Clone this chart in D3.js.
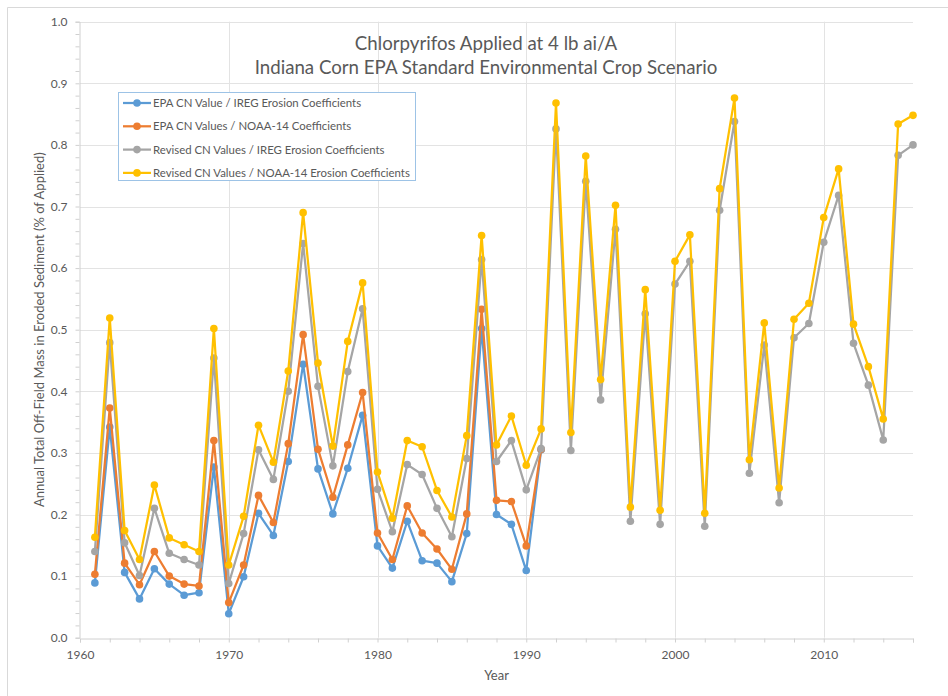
<!DOCTYPE html>
<html>
<head>
<meta charset="utf-8">
<script src="https://cdn.jsdelivr.net/npm/d3@7"></script>
<style>
  html, body { margin: 0; padding: 0; background: #fff; }
  svg { display: block; }
  text { font-family: Lato, "Open Sans", sans-serif; fill: #595959; }
</style>
</head>
<body>
<svg id="chart" width="948" height="696"></svg>
<script>
// Years covered by each scenario run
const yearsAll = d3.range(1961, 2017);
const yearsEPA = d3.range(1961, 1992);

// Annual off-field mass in eroded sediment (% of applied)
const epaIreg = [0.089, 0.342, 0.106, 0.063, 0.112, 0.087, 0.069, 0.073, 0.277, 0.039,
  0.099, 0.202, 0.166, 0.286, 0.444, 0.274, 0.201, 0.275, 0.361, 0.149,
  0.113, 0.189, 0.125, 0.121, 0.091, 0.169, 0.502, 0.200, 0.184, 0.109, 0.305];
const epaNoaa = [0.103, 0.373, 0.121, 0.086, 0.140, 0.100, 0.087, 0.084, 0.320, 0.057,
  0.118, 0.231, 0.187, 0.315, 0.492, 0.306, 0.228, 0.313, 0.398, 0.170,
  0.127, 0.214, 0.170, 0.144, 0.111, 0.201, 0.533, 0.223, 0.221, 0.149, 0.306];
const revIreg = [0.140, 0.479, 0.154, 0.101, 0.210, 0.137, 0.127, 0.118, 0.454, 0.088,
  0.169, 0.305, 0.257, 0.400, 0.640, 0.408, 0.279, 0.432, 0.534, 0.241,
  0.172, 0.281, 0.265, 0.210, 0.164, 0.291, 0.614, 0.286, 0.320, 0.240,
  0.307, 0.826, 0.304, 0.741, 0.386, 0.663, 0.189, 0.526, 0.184, 0.574,
  0.611, 0.181, 0.694, 0.838, 0.267, 0.475, 0.219, 0.487, 0.510, 0.642,
  0.718, 0.478, 0.410, 0.321, 0.783, 0.800];
const revNoaa = [0.163, 0.519, 0.174, 0.127, 0.248, 0.162, 0.151, 0.140, 0.502, 0.118,
  0.197, 0.345, 0.285, 0.433, 0.690, 0.446, 0.311, 0.481, 0.576, 0.269,
  0.194, 0.320, 0.310, 0.239, 0.196, 0.328, 0.653, 0.313, 0.360, 0.280,
  0.339, 0.868, 0.333, 0.782, 0.419, 0.702, 0.212, 0.565, 0.207, 0.611,
  0.654, 0.202, 0.729, 0.876, 0.289, 0.511, 0.243, 0.517, 0.543, 0.682,
  0.761, 0.509, 0.440, 0.355, 0.834, 0.848];

const seriesNames = [
  "EPA CN Value / IREG Erosion Coefficients",
  "EPA CN Values / NOAA-14 Coefficients",
  "Revised CN Values / IREG Erosion Coefficients",
  "Revised CN Values / NOAA-14 Erosion Coefficients"
];
const seriesColors = ["#5B9BD5", "#ED7D31", "#A5A5A5", "#FFC000"];

const xTicks = [1960, 1970, 1980, 1990, 2000, 2010];
const yTicks = [0, 0.1, 0.2, 0.3, 0.4, 0.5, 0.6, 0.7, 0.8, 0.9, 1.0];

const titleLines = ["Chlorpyrifos Applied at 4 lb ai/A",
  "Indiana Corn EPA Standard Environmental Crop Scenario"];

const series = [
  { name: seriesNames[0], color: seriesColors[0], years: yearsEPA, values: epaIreg },
  { name: seriesNames[1], color: seriesColors[1], years: yearsEPA, values: epaNoaa },
  { name: seriesNames[2], color: seriesColors[2], years: yearsAll, values: revIreg },
  { name: seriesNames[3], color: seriesColors[3], years: yearsAll, values: revNoaa }
];

const svg = d3.select("#chart");
const plot = { left: 80, right: 913, top: 21.7, bottom: 637.7 };

const x = d3.scaleLinear().domain([1960, 2016]).range([plot.left, plot.right]);
const y = d3.scaleLinear().domain([0, 1]).range([plot.bottom, plot.top]);

// Chart area outline (left and top edges in view)
svg.append("path")
  .attr("d", "M7.5,700 V7.5 H948")
  .attr("fill", "none").attr("stroke", "#d9d9d9").attr("stroke-width", 1);

// Gridlines
const grid = svg.append("g");
grid.selectAll("line.h").data(yTicks.filter(d => d > 0)).join("line")
  .attr("x1", plot.left).attr("x2", plot.right)
  .attr("y1", d => Math.round(y(d)) + 0.5).attr("y2", d => Math.round(y(d)) + 0.5)
  .attr("stroke", "#e3e3e3");
grid.selectAll("line.v").data(xTicks.filter(d => d > 1960)).join("line")
  .attr("y1", plot.top).attr("y2", plot.bottom)
  .attr("x1", d => Math.round(x(d)) + 0.5).attr("x2", d => Math.round(x(d)) + 0.5)
  .attr("stroke", "#e3e3e3");

// X axis
const xAxis = svg.append("g")
  .attr("transform", `translate(0,${Math.round(plot.bottom) + 0.5})`)
  .call(d3.axisBottom(x).tickValues(d3.range(1960, 2017, 2)).tickSize(4)
    .tickFormat(d => xTicks.includes(d) ? d : ""));
xAxis.select(".domain").attr("stroke", "#d0d0d0");
xAxis.selectAll(".tick line").attr("stroke", "#d0d0d0");
xAxis.selectAll(".tick text").attr("dy", "0")
  .attr("y", 20).style("font-size", "12px").style("font-family", "Lato, sans-serif")
  .attr("fill", "#595959");

// Y axis
const yAxis = svg.append("g")
  .attr("transform", `translate(${plot.left - 0.5},0)`)
  .call(d3.axisLeft(y).tickValues(d3.range(0, 51).map(i => i / 50)).tickSize(4)
    .tickFormat(d => (Math.round(d * 50) % 5 === 0) ? d3.format(".1f")(d) : ""));
yAxis.select(".domain").attr("stroke", "#d0d0d0");
yAxis.selectAll(".tick line").attr("stroke", "#d0d0d0");
yAxis.selectAll(".tick text").attr("x", -12)
  .style("font-size", "12px").style("font-family", "Lato, sans-serif")
  .attr("fill", "#595959");

// Axis titles
svg.append("text")
  .attr("x", (plot.left + plot.right) / 2).attr("y", 680)
  .attr("text-anchor", "middle").style("font-size", "13px")
  .text("Year");
svg.append("text")
  .attr("transform", `translate(44,${(plot.top + plot.bottom) / 2}) rotate(-90)`)
  .attr("text-anchor", "middle").style("font-size", "13px")
  .text("Annual Total Off-Field Mass in Eroded Sediment (% of Applied)");

// Chart title
svg.append("g").selectAll("text").data(titleLines).join("text")
  .attr("x", 486).attr("y", (d, i) => 50 + i * 24)
  .attr("text-anchor", "middle").style("font-size", "18.7px")
  .text(d => d);

// Series lines and markers
const line = d3.line().x(d => x(d[0])).y(d => y(d[1]));
series.forEach(s => {
  const pts = s.years.map((yr, i) => [yr, s.values[i]]);
  const g = svg.append("g");
  g.append("path").datum(pts)
    .attr("d", line).attr("fill", "none")
    .attr("stroke", s.color).attr("stroke-width", 2.25)
    .attr("stroke-linejoin", "round");
  g.selectAll("circle").data(pts).join("circle")
    .attr("cx", d => x(d[0])).attr("cy", d => y(d[1])).attr("r", 3.8)
    .attr("fill", s.color);
});

// Legend
const legend = svg.append("g");
legend.append("rect")
  .attr("x", 118.5).attr("y", 92.5).attr("width", 297).attr("height", 88)
  .attr("fill", "#fff").attr("stroke", "#9DC3E6");
const items = legend.selectAll("g.item").data(series).join("g")
  .attr("transform", (d, i) => `translate(0,${103 + i * 23.3})`);
items.append("line").attr("x1", 123).attr("x2", 151)
  .attr("stroke", d => d.color).attr("stroke-width", 2.25);
items.append("circle").attr("cx", 137).attr("r", 3.8).attr("fill", d => d.color);
items.append("text").attr("x", 153).attr("dy", "0.35em")
  .style("font-size", "11.4px").text(d => d.name);
</script>
</body>
</html>
